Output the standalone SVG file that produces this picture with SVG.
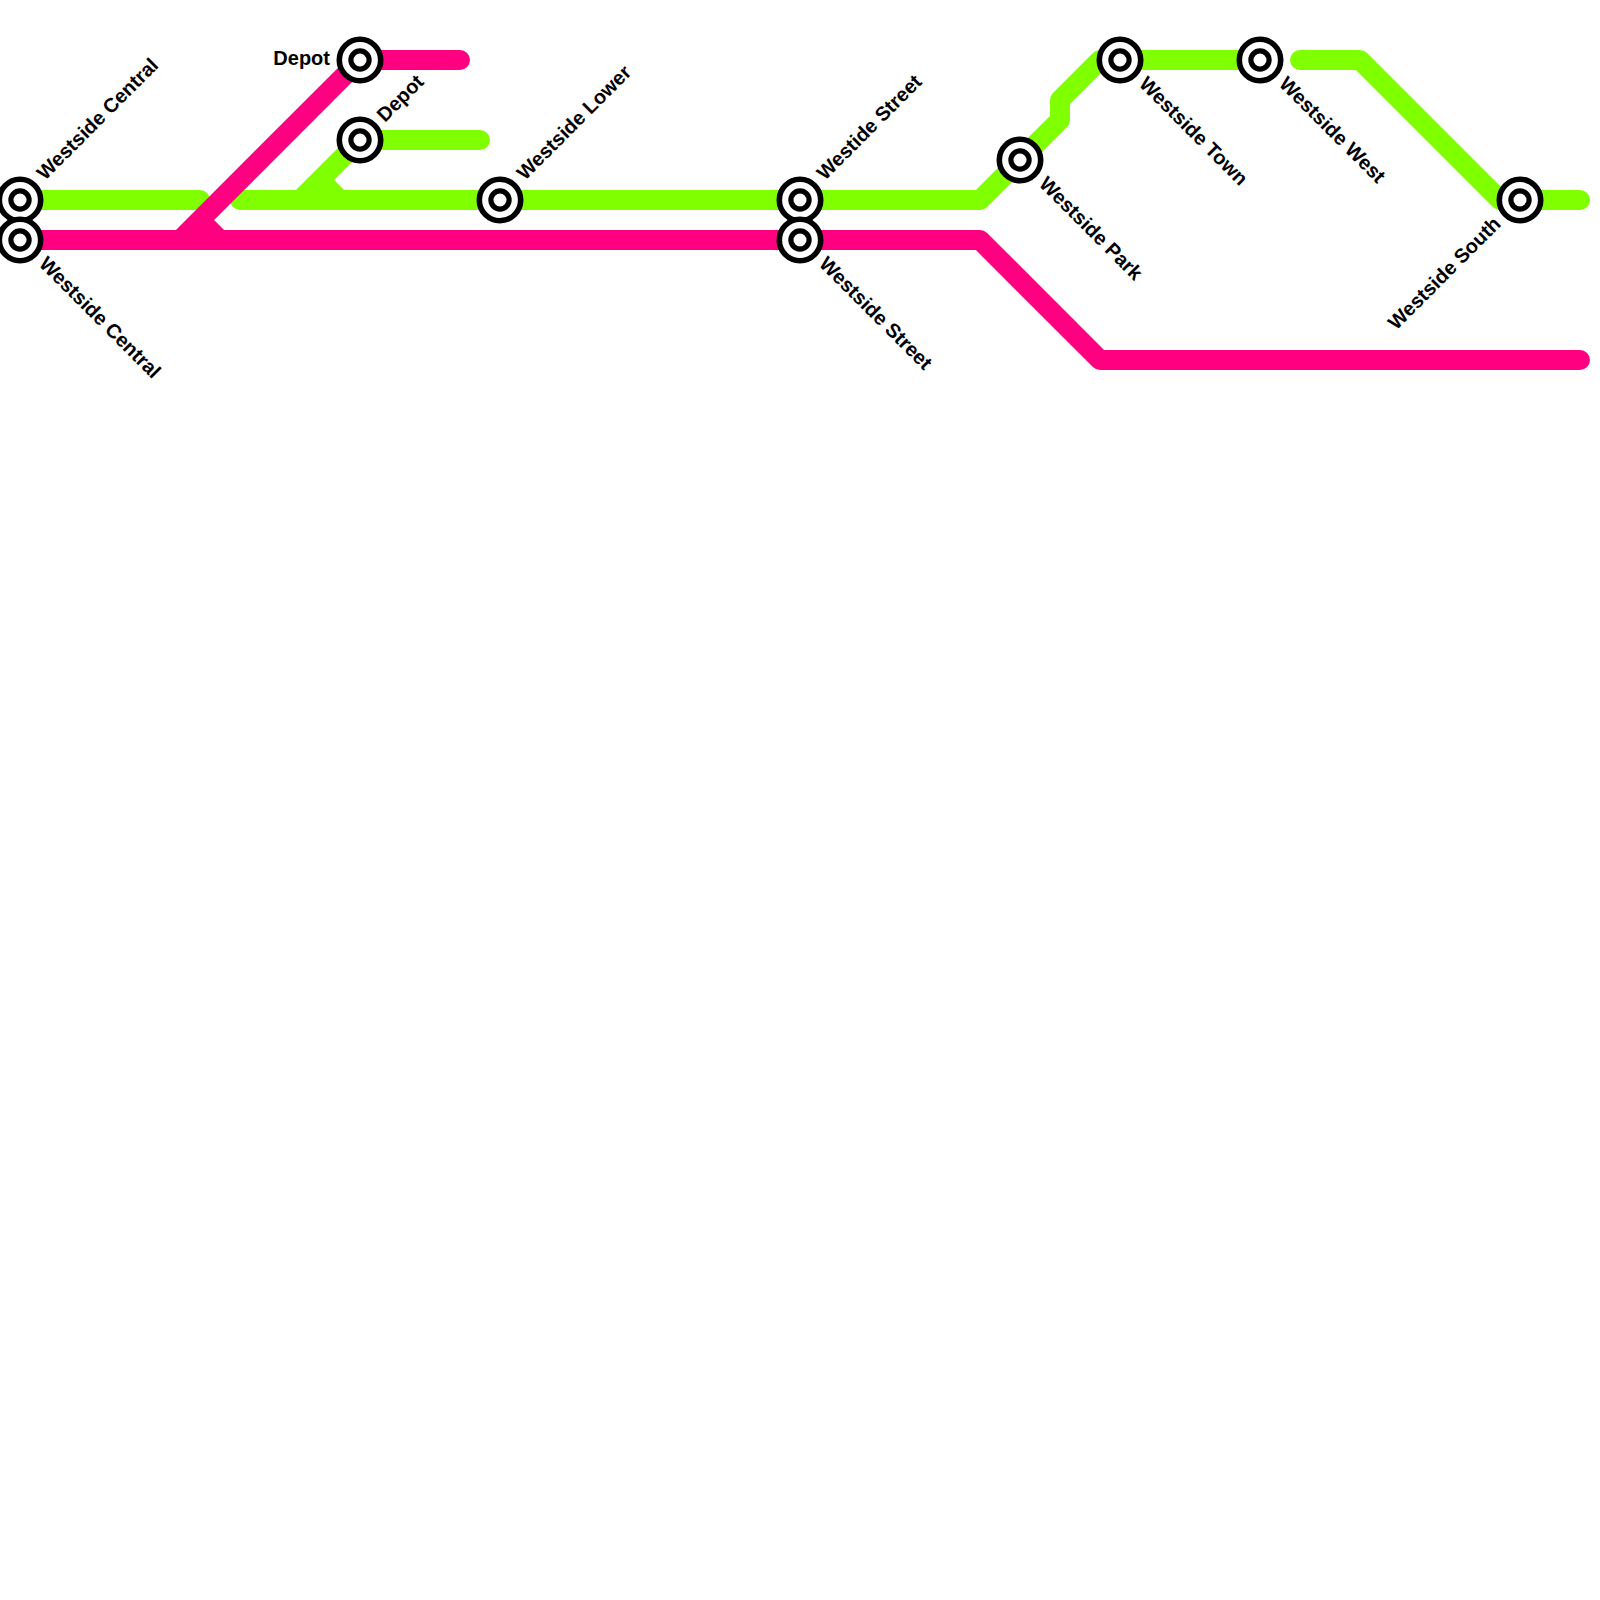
<svg xmlns="http://www.w3.org/2000/svg" width="1600" height="1600" viewBox="0 0 1600 1600">
<style>
.line{fill:none;stroke-width:20;stroke-linecap:round;stroke-linejoin:round}
.g{stroke:#80ff00}.p{stroke:#ff0080}
.o{fill:#fff;stroke:#000;stroke-width:5.6}
.i{fill:#fff;stroke:#000;stroke-width:5.2}
text{font-family:"Liberation Sans",Arial,sans-serif;font-weight:700;font-size:20px;fill:#000}
.e{text-anchor:end}
</style>
<defs>
<g id="st"><circle class="o" r="20.7"/><circle class="i" r="9.1"/></g>
</defs>
<rect width="1600" height="1600" fill="#fff"/>
<g id="connectors">
<path class="line g" d="M20 200H200"/>
<path class="line g" d="M240 200H980L1060 120V100L1100 60H1260"/>
<path class="line g" d="M360 140L300 200M320 180L340 200"/>
<path class="line g" d="M360 140H480"/>
<path class="line g" d="M1300 60H1360L1500 200H1580"/>
<path class="line p" d="M20 240H980L1100 360H1580"/>
<path class="line p" d="M460 60H360L180 240M200 220L220 240"/>
</g>
<g id="n1"><use href="#st" x="20" y="200"/><text transform="translate(45 181) rotate(-45)">Westside Central</text></g>
<g id="n2"><use href="#st" x="20" y="240"/><text transform="translate(38 265) rotate(45)">Westside Central</text></g>
<g id="n3"><use href="#st" x="360" y="60"/><text class="e" x="330" y="65">Depot</text></g>
<g id="n4"><use href="#st" x="360" y="140"/><text transform="translate(385 123) rotate(-45)">Depot</text></g>
<g id="n5"><use href="#st" x="500" y="200"/><text transform="translate(525 181) rotate(-45)">Westside Lower</text></g>
<g id="n6"><use href="#st" x="800" y="200"/><text transform="translate(825 181) rotate(-45)">Westide Street</text></g>
<g id="n7"><use href="#st" x="800" y="240"/><text transform="translate(818 265) rotate(45)">Westside Street</text></g>
<g id="n8"><use href="#st" x="1020" y="160"/><text transform="translate(1038 185) rotate(45)">Westside Park</text></g>
<g id="n9"><use href="#st" x="1120" y="60"/><text transform="translate(1138 85) rotate(45)">Westside Town</text></g>
<g id="n10"><use href="#st" x="1260" y="60"/><text transform="translate(1278 85) rotate(45)">Westside West</text></g>
<g id="n11"><use href="#st" x="1520" y="200"/><text class="e" transform="translate(1502 225) rotate(-45)">Westside South</text></g>
</svg>
